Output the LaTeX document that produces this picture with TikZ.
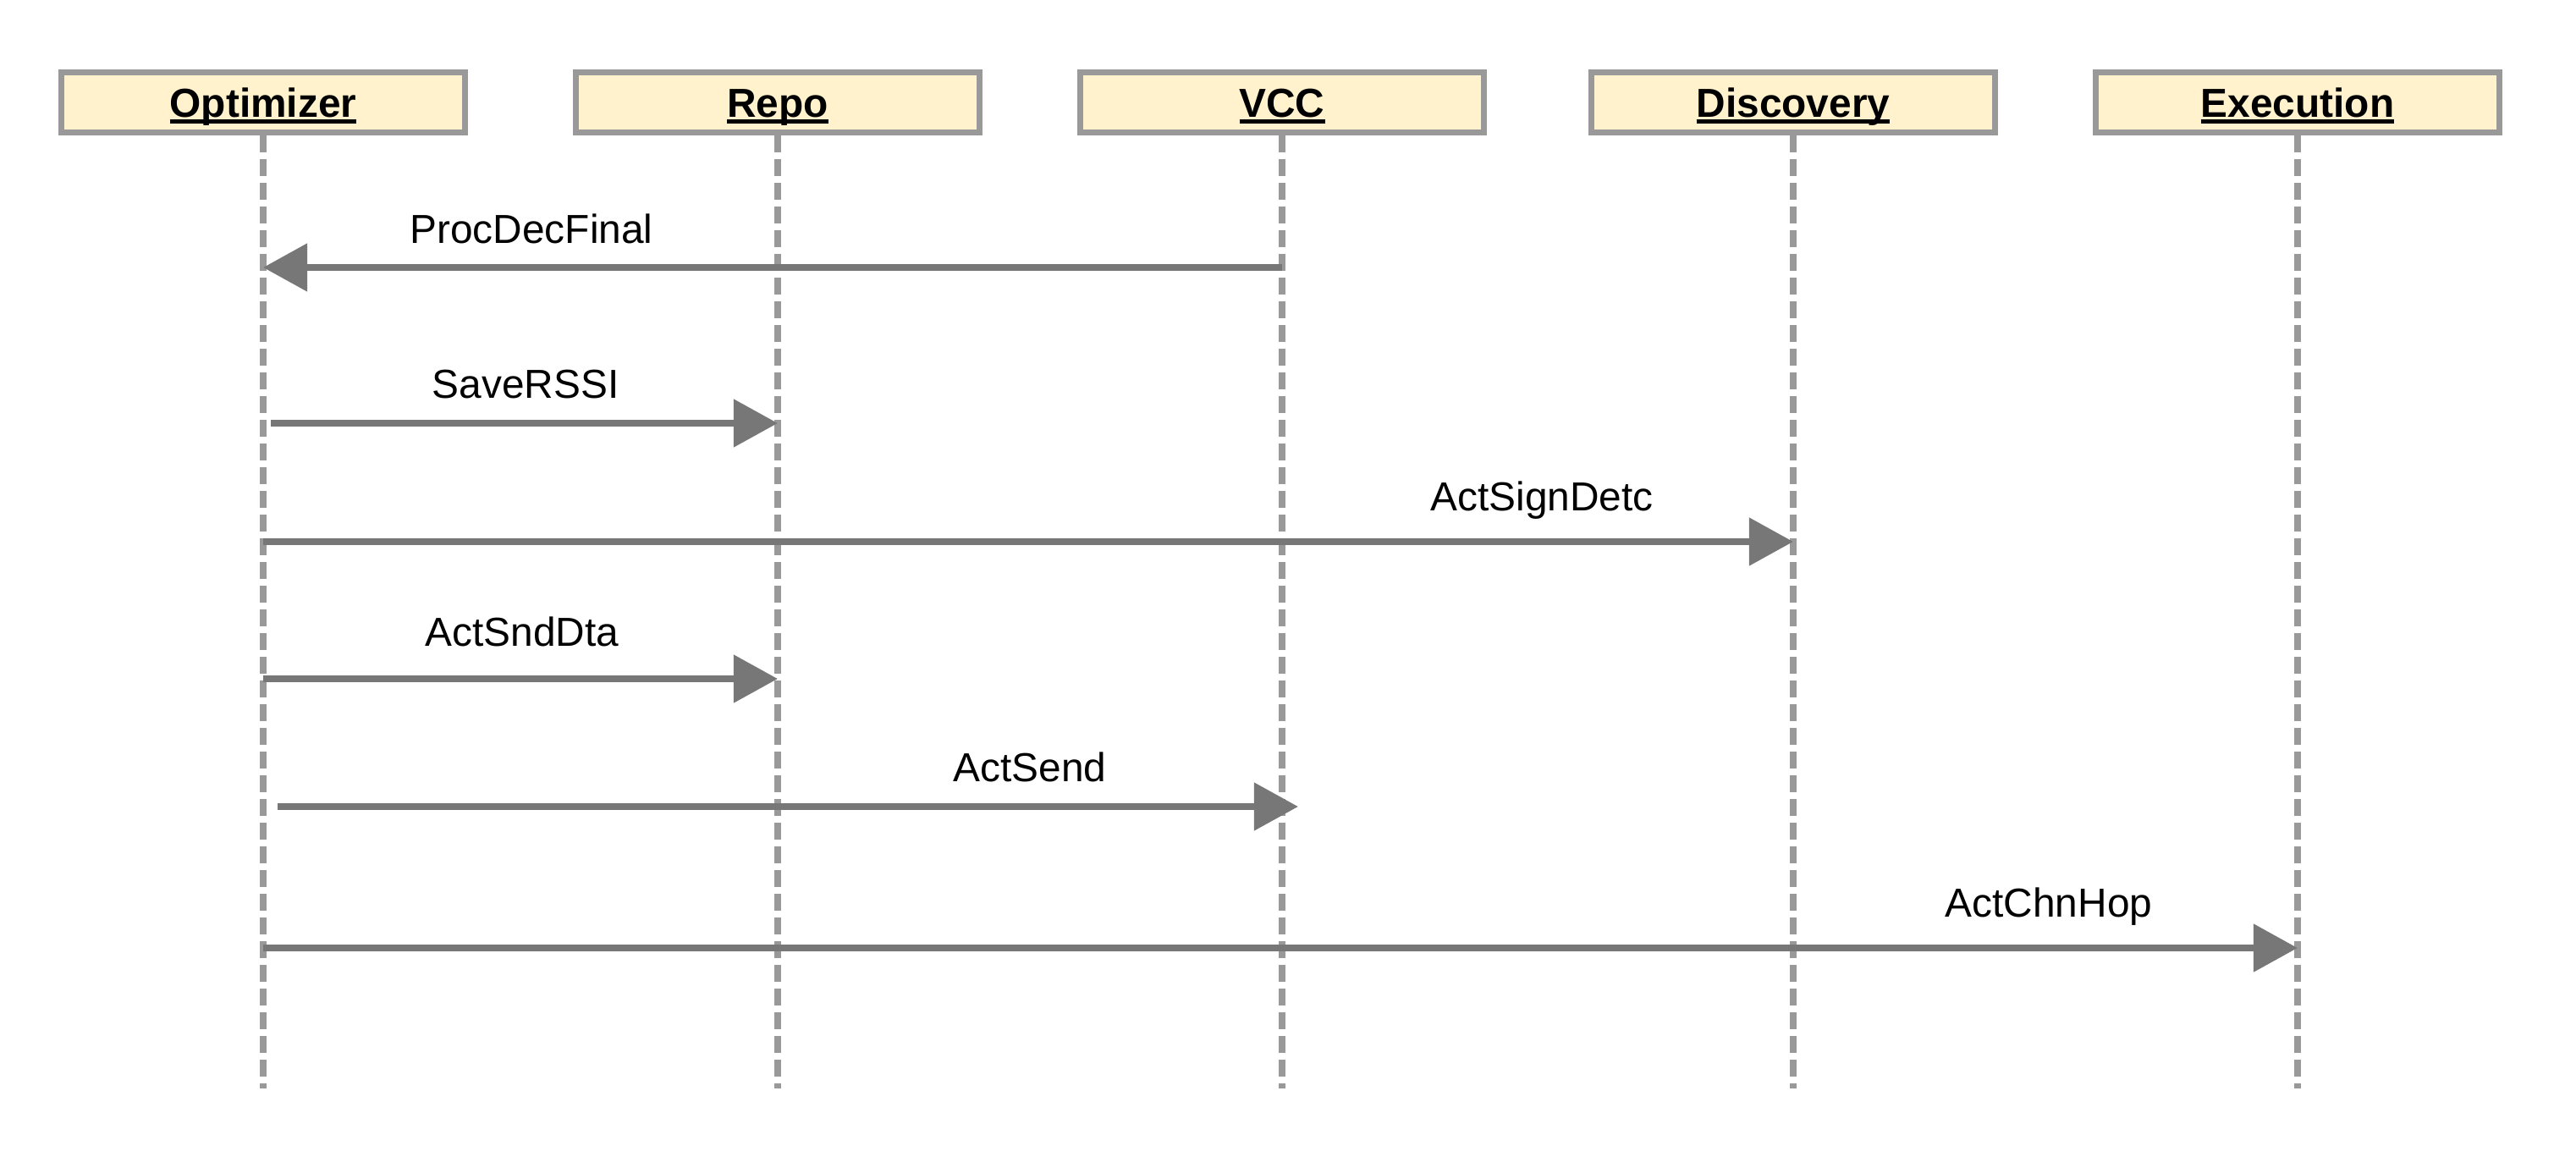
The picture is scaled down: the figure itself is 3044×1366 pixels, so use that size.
\documentclass[tikz,border=0pt]{standalone}
\usepackage{fontspec}
\setmainfont{Liberation Sans}
\usetikzlibrary{arrows.meta, positioning}
\definecolor{boxfill}{HTML}{FFF2CC}
\definecolor{linegray}{HTML}{999999}
\definecolor{arrgray}{HTML}{777777}
\newcommand{\objname}[1]{\setbox0\hbox{#1}\rlap{\rule[-2.2pt]{\wd0}{1.3pt}}\box0}

\begin{document}
\begin{tikzpicture}[x=0.01cm, y=-0.01cm,
  obj/.style={draw=linegray, line width=0.07cm, fill=boxfill, minimum width=4.76cm, minimum height=0.70cm, inner sep=0pt, text height=0.35cm, text depth=0.01cm, font=\fontsize{13.6}{16}\selectfont\bfseries},
  life/.style={draw=linegray, line width=0.08cm, dash pattern=on 0.2cm off 0.08cm},
  msg/.style={draw=arrgray, line width=0.08cm, -{Triangle[length=0.52cm, width=0.55cm]}},
  lbl/.style={anchor=base, inner sep=0pt, font=\fontsize{13.6}{16}\selectfont}]
\useasboundingbox (0,0) rectangle (3044,1366);

% objects
\node[obj] (opt) at (311,121) {\objname{Optimizer}};
\node[obj] (repo) at (919,121) {\objname{Repo}};
\node[obj] (vcc) at (1515,121) {\objname{VCC}};
\node[obj] (disc) at (2119,121) {\objname{Discovery}};
\node[obj] (exec) at (2715,121) {\objname{Execution}};

% lifelines
\coordinate (opt-end) at (311,1286);
\coordinate (repo-end) at (919,1286);
\coordinate (vcc-end) at (1515,1286);
\coordinate (disc-end) at (2119,1286);
\coordinate (exec-end) at (2715,1286);
\draw[life] (opt.south) -- (opt-end);
\draw[life] (repo.south) -- (repo-end);
\draw[life] (vcc.south) -- (vcc-end);
\draw[life] (disc.south) -- (disc-end);
\draw[life] (exec.south) -- (exec-end);

% messages
\coordinate (m1a) at (1515,316);
\coordinate (m1b) at (311,316);
\node[lbl] (l1) at (628,287) {ProcDecFinal};
\draw[msg] (m1a) -- (m1b);

\coordinate (m2a) at (320,500);
\coordinate (m2b) at (919,500);
\node[lbl] (l2) at (621,470) {SaveRSSI};
\draw[msg] (m2a) -- (m2b);

\coordinate (m3a) at (311,640);
\coordinate (m3b) at (2119,640);
\node[lbl] (l3) at (1822,603) {ActSignDetc};
\draw[msg] (m3a) -- (m3b);

\coordinate (m4a) at (311,802);
\coordinate (m4b) at (919,802);
\node[lbl] (l4) at (617,763) {ActSndDta};
\draw[msg] (m4a) -- (m4b);

\coordinate (m5a) at (328,953);
\coordinate (m5b) at (1534,953);
\node[lbl] (l5) at (1217,923) {ActSend};
\draw[msg] (m5a) -- (m5b);

\coordinate (m6a) at (311,1120);
\coordinate (m6b) at (2715,1120);
\node[lbl] (l6) at (2421,1083) {ActChnHop};
\draw[msg] (m6a) -- (m6b);
\end{tikzpicture}
\end{document}
